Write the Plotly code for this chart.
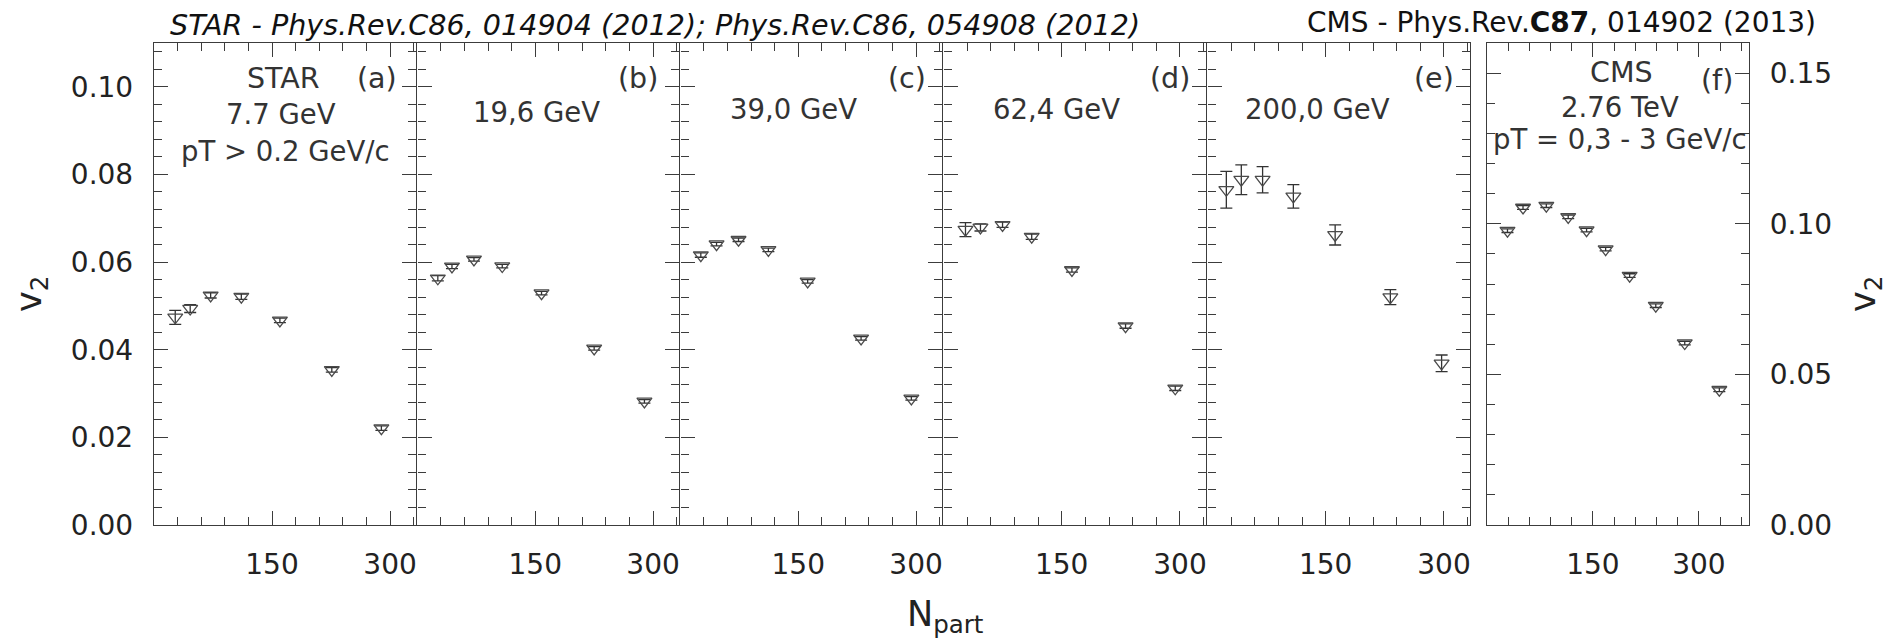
import plotly.graph_objects as go

W, H = 1893, 642

# ---------------- data ----------------
npart_a = [27, 46, 72, 111, 160, 226, 289]
v2_a = [0.0474, 0.0494, 0.0524, 0.0521, 0.0467, 0.0354, 0.0221]
err_a = [0.0016, 0.0009, 0.0006, 0.0006, 0.0005, 0.0005, 0.0005]

npart_b = [26, 44, 72, 108, 158, 225, 289]
v2_b = [0.0563, 0.0590, 0.0606, 0.0591, 0.0529, 0.0403, 0.0282]
err_b = [0.0006, 0.0005, 0.0004, 0.0004, 0.0004, 0.0004, 0.0004]

npart_c = [26, 46, 74, 112, 162, 230, 294]
v2_c = [0.0616, 0.0641, 0.0651, 0.0628, 0.0556, 0.0426, 0.0289]
err_c = [0.0005, 0.0004, 0.0004, 0.0004, 0.0004, 0.0004, 0.0004]

npart_d = [28, 47, 75, 112, 163, 231, 294]
v2_d = [0.0674, 0.0679, 0.0685, 0.0658, 0.0582, 0.0454, 0.0312]
err_d = [0.0016, 0.0008, 0.0006, 0.0006, 0.0005, 0.0005, 0.0005]

npart_e = [24, 43, 70, 109, 162, 232, 297]
v2_e = [0.0765, 0.0788, 0.0788, 0.0750, 0.0662, 0.0520, 0.0369]
err_e = [0.0042, 0.0034, 0.0030, 0.0027, 0.0023, 0.0017, 0.0019]

npart_f = [29, 51, 84, 115, 141, 168, 202, 239, 280, 329]
v2_f = [0.0977, 0.1054, 0.1060, 0.1023, 0.0979, 0.0916, 0.0828, 0.0728, 0.0604, 0.0449]
err_f = [0.0006, 0.0006, 0.0006, 0.0006, 0.0006, 0.0006, 0.0006, 0.0006, 0.0006, 0.0006]

x_ticks = [150, 300]
x_ticktext = ["150", "300"]
x_minor_step = 30
y_ticks_star = [0.00, 0.02, 0.04, 0.06, 0.08, 0.10]
y_ticktext_star = ["0.00", "0.02", "0.04", "0.06", "0.08", "0.10"]
y_minor_step_star = 0.004
y_ticks_cms = [0.00, 0.05, 0.10, 0.15]
y_ticktext_cms = ["0.00", "0.05", "0.10", "0.15"]
y_minor_step_cms = 0.01

panel_labels = ["(a)", "(b)", "(c)", "(d)", "(e)", "(f)"]
energies = ["7.7 GeV", "19,6 GeV", "39,0 GeV", "62,4 GeV", "200,0 GeV", "2.76 TeV"]

# ---------------- styling ----------------
FONT = "DejaVu Sans, Liberation Sans, Arial, sans-serif"
AX = "#3c3c3c"
TXT = "#222222"
ANN = "#333333"
LW = 1.4


def px(x):
    return x / W


def py(y):
    return 1 - y / H


def minor_vals(lo, hi, step, skip):
    vals = []
    k = 1
    while k * step < hi - 1e-9:
        v = round(k * step, 6)
        if all(abs(v - s) > 1e-9 for s in skip) and v > lo:
            vals.append(v)
        k += 1
    return vals


x_dom = [(154, 416), (416 + LW, 679), (679 + LW, 942), (942 + LW, 1206),
         (1206 + LW, 1470), (1487, 1749)]
y_dom = [py(525), py(43)]

fig = go.Figure()

series = [
    (npart_a, v2_a, err_a),
    (npart_b, v2_b, err_b),
    (npart_c, v2_c, err_c),
    (npart_d, v2_d, err_d),
    (npart_e, v2_e, err_e),
    (npart_f, v2_f, err_f),
]

for i, (xs, ys, es) in enumerate(series):
    n = "" if i == 0 else str(i + 1)
    fig.add_trace(go.Scatter(
        x=xs, y=ys, mode="markers",
        xaxis="x" + n, yaxis="y" + n,
        marker=dict(symbol="triangle-down-open", size=13, color="#4a4a4a",
                    line=dict(width=1.3, color="#4a4a4a")),
        error_y=dict(type="data", array=es, visible=True, color="#333333",
                     thickness=1.3, width=6),
        showlegend=False, hoverinfo="x+y",
    ))

layout = dict(
    width=W, height=H,
    margin=dict(l=0, r=0, t=0, b=0, autoexpand=False),
    paper_bgcolor="white", plot_bgcolor="white",
    showlegend=False,
)

common = dict(showline=True, linecolor=AX, linewidth=LW, mirror="ticks",
              ticks="inside", ticklen=14, tickwidth=1.3, tickcolor=AX,
              showgrid=False, zeroline=False, fixedrange=True,
              ticklabelstandoff=14)

for i in range(6):
    n = "" if i == 0 else str(i + 1)
    xr = [0, 371] if i == 5 else [0, 333]
    layout["xaxis" + n] = dict(
        domain=[px(x_dom[i][0]), px(x_dom[i][1])], range=xr, anchor="y" + n,
        tickmode="array", tickvals=x_ticks, ticktext=x_ticktext,
        tickfont=dict(family=FONT, size=28, color=TXT),
        minor=dict(ticks="inside", ticklen=8, tickwidth=1.3, tickcolor=AX,
                   tickmode="array",
                   tickvals=minor_vals(0, xr[1], x_minor_step, x_ticks),
                   showgrid=False),
        **common,
    )
    if i < 5:
        layout["yaxis" + n] = dict(
            domain=y_dom, range=[0, 0.11], anchor="x" + n,
            tickmode="array", tickvals=y_ticks_star, ticktext=y_ticktext_star,
            showticklabels=(i == 0),
            tickfont=dict(family=FONT, size=28, color=TXT),
            minor=dict(ticks="inside", ticklen=8, tickwidth=1.3, tickcolor=AX,
                       tickmode="array",
                       tickvals=minor_vals(0, 0.11, y_minor_step_star, y_ticks_star),
                       showgrid=False),
            **common,
        )
    else:
        layout["yaxis" + n] = dict(
            domain=y_dom, range=[0, 0.16], anchor="x" + n, side="right",
            tickmode="array", tickvals=y_ticks_cms, ticktext=y_ticktext_cms,
            tickfont=dict(family=FONT, size=28, color=TXT),
            minor=dict(ticks="inside", ticklen=8, tickwidth=1.3, tickcolor=AX,
                       tickmode="array",
                       tickvals=minor_vals(0, 0.16, y_minor_step_cms, y_ticks_cms),
                       showgrid=False),
            **common,
        )

fig.update_layout(**layout)

ann = []


def add_text(text, x, y, size=27.5, color=ANN, xanchor="center", angle=0):
    ann.append(dict(text=text, x=px(x), y=py(y), xref="paper", yref="paper",
                    showarrow=False, xanchor=xanchor, yanchor="middle",
                    textangle=angle,
                    font=dict(family=FONT, size=size, color=color)))


# titles
add_text("<i>STAR - Phys.Rev.C86, 014904 (2012); Phys.Rev.C86, 054908 (2012)</i>",
         655, 25, size=28.6, color="#111111")
add_text("CMS - Phys.Rev.<b>C87</b>, 014902 (2013)", 1561, 23, size=28, color="#111111")

# panel labels
lab_pos = [(377, 79), (638, 78), (907, 78), (1170, 78), (1434, 79), (1717, 80)]
for t, (x, y) in zip(panel_labels, lab_pos):
    add_text(t, x, y, size=28.5)

en_pos = [(281, 114), (536, 112), (793, 109), (1056, 109), (1317, 109), (1620, 107)]
for t, (x, y) in zip(energies, en_pos):
    add_text(t, x, y)

add_text("STAR", 283, 79, size=28.5)
add_text("pT &gt; 0.2 GeV/c", 285, 151)
add_text("CMS", 1621, 73, size=28.5)
add_text("pT = 0,3 - 3 GeV/c", 1620, 139)

# axis titles
add_text("v<sub>2</sub>", 32, 294, size=35, color=TXT, angle=-90)
add_text("v<sub>2</sub>", 1866, 294, size=35, color=TXT, angle=-90)
add_text("N<sub>part</sub>", 945, 616, size=35, color=TXT)

fig.update_layout(annotations=ann)

fig.write_html("out.html")
